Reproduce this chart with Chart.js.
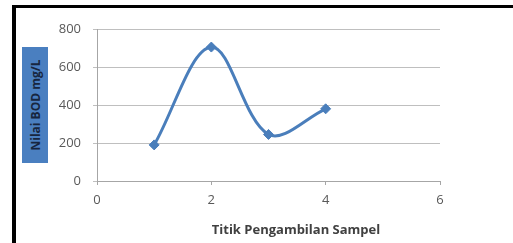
<!DOCTYPE html>
<html>
<head>
<meta charset="utf-8">
<script src="https://cdn.jsdelivr.net/npm/chart.js@4/dist/chart.umd.min.js"></script>
<style>
  body { margin: 0; background: #fff; }
  #wrap { position: relative; width: 513px; height: 243px; overflow: hidden; }
  #frame { position: absolute; left: 12px; top: 5px; right: 0; bottom: 0;
           border-left: 4px solid #000; border-top: 3px solid #000; pointer-events: none; }
  canvas { position: absolute; left: 0; top: 0; }
  #ytitle { position: absolute; left: 22px; top: 47px; width: 26px; height: 116px;
            background: #4a7fc0; }
  #ytitle span { position: absolute; left: 50%; top: 50%; white-space: nowrap;
                 transform: translate(-50%, -50%) rotate(-90deg);
                 font: bold 12px "Open Sans", sans-serif; color: #17263f; }
  #xtitle { position: absolute; left: 186px; top: 220px; width: 220px; text-align: center;
            font: bold 13px "Open Sans", sans-serif; color: #404040; }
</style>
</head>
<body>
<div id="wrap">
  <canvas id="chart" width="513" height="243"></canvas>
  <div id="frame"></div>
  <div id="ytitle"><span>Nilai BOD mg/L</span></div>
  <div id="xtitle">Titik Pengambilan Sampel</div>
</div>
<script>
'use strict';

// titik pengambilan sampel dan nilai BOD
const titik = [1, 2, 3, 4];
const nilaiBOD = [190, 705, 245, 380];
const xTicks = [0, 2, 4, 6];
const yTicks = [0, 200, 400, 600, 800];

const ctx = document.getElementById('chart').getContext('2d');
const points = titik.map((t, i) => ({ x: t, y: nilaiBOD[i] }));

new Chart(ctx, {
  type: 'line',
  data: {
    datasets: [{
      data: points,
      borderColor: '#4a7ebb',
      backgroundColor: '#4a7ebb',
      borderWidth: 3,
      tension: 0.35,
      pointStyle: 'rectRot',
      pointRadius: 5,
      pointBorderWidth: 1,
      fill: false
    }]
  },
  options: {
    responsive: false,
    animation: false,
    layout: { padding: { left: 0, right: 73, top: 29, bottom: 0 } },
    plugins: { legend: { display: false }, tooltip: { enabled: false } },
    scales: {
      x: {
        type: 'linear',
        min: 0,
        max: 6,
        afterBuildTicks: (s) => { s.ticks = xTicks.map(v => ({ value: v })); },
        afterFit: (s) => { s.height = 62; },
        grid: { display: true, drawOnChartArea: false, tickLength: 4, color: '#a6a6a6' },
        border: { color: '#a6a6a6' },
        ticks: { color: '#595959', padding: 7, font: { family: 'Open Sans', size: 13 } }
      },
      y: {
        min: 0,
        max: 800,
        afterBuildTicks: (s) => { s.ticks = yTicks.map(v => ({ value: v })); },
        afterFit: (s) => { s.width = 97; },
        grid: { color: '#bfbfbf', tickLength: 4 },
        border: { color: '#a6a6a6' },
        ticks: { color: '#595959', padding: 12, font: { family: 'Open Sans', size: 13 } }
      }
    }
  }
});
</script>
</body>
</html>
